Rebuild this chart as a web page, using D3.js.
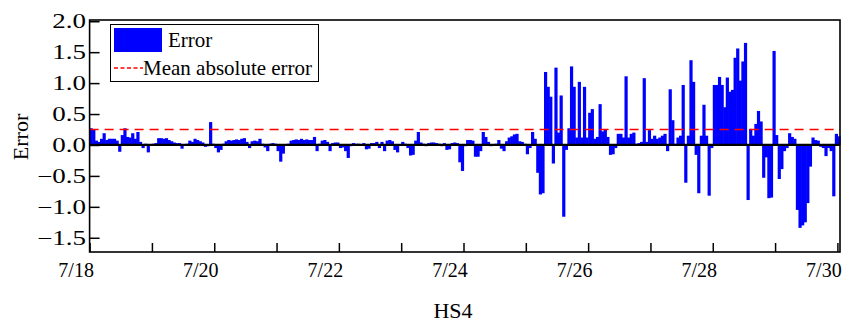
<!DOCTYPE html>
<html>
<head>
<meta charset="utf-8">
<script src="https://cdn.jsdelivr.net/npm/d3@7"></script>
<style>
  html, body { margin: 0; padding: 0; background: #fff; }
  svg { display: block; }
  text { font-family: "Liberation Serif", "Times New Roman", serif; fill: #000; }
</style>
</head>
<body>
<svg id="chart" width="842" height="322"></svg>
<script>
// Hourly forecast error for station HS4, starting 7/18 00:00
const startTime = new Date(2020, 6, 18, 0);
const endTime = new Date(2020, 6, 30, 1);

const errorDay18 = [0.27, 0.25, 0.07, 0.05, 0.10, 0.19, 0.08, 0.10, 0.10, 0.10, 0.07, -0.11,
                    0.16, 0.27, 0.13, 0.12, 0.19, 0.10, 0.21, 0.05, -0.05, 0.02, -0.12, 0.01];
const errorDay19 = [0.02, 0.03, 0.11, 0.11, 0.10, 0.11, 0.08, 0.06, 0.04, 0.03, 0.03, -0.06,
                    0.01, 0.02, 0.07, 0.05, 0.10, 0.08, 0.06, 0.04, -0.03, -0.02, 0.37, 0.02];
const errorDay20 = [-0.05, -0.12, -0.08, 0.02, 0.06, 0.08, 0.07, 0.08, 0.09, 0.08, 0.10, 0.11,
                    0.05, -0.05, 0.06, 0.07, 0.06, 0.10, 0.02, -0.04, -0.10, 0.02, 0.03, 0.02];
const errorDay21 = [-0.10, -0.27, -0.14, 0.01, 0.02, 0.07, 0.08, 0.09, 0.08, 0.10, 0.08, 0.09,
                    0.08, 0.08, 0.13, -0.10, 0.02, 0.07, 0.08, 0.05, -0.10, 0.03, 0.04, 0.04];
const errorDay22 = [-0.05, -0.04, -0.10, -0.21, -0.02, 0.03, 0.02, 0.02, 0.01, 0.03, -0.07, -0.06,
                    0.03, 0.03, 0.05, -0.05, 0.05, -0.10, 0.07, 0.08, 0.06, -0.08, -0.12, 0.01];
const errorDay23 = [0.05, 0.02, -0.05, -0.17, -0.16, 0.07, 0.21, 0.04, 0.02, -0.02, 0.03, 0.04,
                    0.04, 0.03, 0.02, -0.02, 0.03, -0.08, -0.07, 0.03, 0.04, 0.03, -0.28, -0.42];
const errorDay24 = [-0.02, 0.08, 0.08, 0.07, -0.19, -0.19, -0.10, 0.21, 0.13, 0.05, -0.02, 0.01,
                    0.02, 0.08, -0.06, -0.10, 0.06, 0.12, 0.14, 0.17, 0.18, 0.06, 0.05, 0.02];
const errorDay25 = [-0.15, -0.05, 0.21, 0.10, -0.45, -0.80, -0.78, 1.18, 0.94, 0.78, -0.30, 1.25,
                    0.20, 0.80, -1.16, -0.08, 0.27, 1.27, 0.94, 0.12, 1.02, 0.12, 0.94, 0.12];
const errorDay26 = [0.52, 0.58, 0.10, 0.13, 0.66, 0.22, 0.25, 0.13, -0.16, -0.15, -0.05, 0.18,
                    0.18, 0.12, 1.11, 0.12, 0.18, 0.20, 0.02, 0.03, 0.05, 1.08, 0.05, 0.24];
const errorDay27 = [0.10, 0.15, 0.10, 0.12, 0.15, 0.18, -0.10, 0.90, 0.40, 0.02, 0.12, 0.15,
                    0.97, -0.61, 0.15, 1.37, 1.02, -0.16, -0.78, 0.15, 0.65, 0.15, -0.82, -0.05];
const errorDay28 = [0.97, 0.97, 1.10, 0.97, 0.61, 1.09, 0.86, 0.89, 1.41, 1.56, 1.04, 1.35,
                    1.65, -0.89, 0.26, 0.15, 0.34, 0.55, 0.38, -0.53, -0.20, -0.86, -0.85, 1.52];
const errorDay29 = [0.16, -0.55, -0.39, -0.10, -0.05, 0.19, 0.13, 0.10, -1.05, -1.34, -1.30, -1.25,
                    -0.94, -0.35, 0.12, 0.08, 0.07, -0.03, -0.05, -0.18, -0.05, -0.10, -0.83, 0.18];
const errorDay30 = [0.14];

const meanAbsoluteError = 0.25;
const yTicks = [-1.5, -1.0, -0.5, 0.0, 0.5, 1.0, 1.5, 2.0];
const xTickLabels = ["7/18", "7/20", "7/22", "7/24", "7/26", "7/28", "7/30"];
const xTitle = "HS4";
const yTitle = "Error";
const legendLabels = ["Error", "Mean absolute error"];

const errorValues = [].concat(errorDay18, errorDay19, errorDay20, errorDay21, errorDay22,
  errorDay23, errorDay24, errorDay25, errorDay26, errorDay27, errorDay28, errorDay29, errorDay30);
const series = errorValues.map((v, i) => ({ time: d3.timeHour.offset(startTime, i), value: v }));

const plot = { left: 89.6, right: 840, top: 20, bottom: 252 };
const svg = d3.select("#chart");

const x = d3.scaleTime().domain([startTime, endTime]).range([plot.left, plot.right]);
const y = d3.scaleLinear().domain([-1.73, 2.02]).range([plot.bottom, plot.top]);

// bars: one per hour, overlapping slightly so neighbours merge into solid blocks
svg.append("g")
  .selectAll("rect")
  .data(series)
  .join("rect")
  .attr("x", d => x(d.time))
  .attr("width", d => x(d3.timeHour.offset(d.time, 1)) - x(d.time) + 0.6)
  .attr("y", d => y(Math.max(0, d.value)))
  .attr("height", d => Math.abs(y(d.value) - y(0)))
  .attr("fill", "#0000ff");

// zero line
svg.append("line")
  .attr("x1", plot.left).attr("x2", plot.right)
  .attr("y1", y(0)).attr("y2", y(0))
  .attr("stroke", "#000").attr("stroke-width", 2.2);

// mean absolute error reference
svg.append("line")
  .attr("x1", plot.left).attr("x2", plot.right)
  .attr("y1", y(meanAbsoluteError)).attr("y2", y(meanAbsoluteError))
  .attr("stroke", "#ff0000").attr("stroke-width", 1.3)
  .attr("stroke-dasharray", "9,6");

// y axis (ticks inward), labels drawn slightly widened
const yAxis = svg.append("g")
  .attr("transform", `translate(${plot.left},0)`)
  .call(d3.axisLeft(y).tickValues(yTicks).tickFormat(d3.format(".1f")).tickSizeInner(-10).tickSizeOuter(0));
yAxis.select(".domain").remove();
yAxis.selectAll(".tick line").attr("stroke-width", 1.5);
yAxis.selectAll(".tick text")
  .attr("font-size", 20)
  .attr("x", 0)
  .attr("dy", "0.33em")
  .attr("transform", "translate(-3.5,0) scale(1.35,1)");

// x axis: daily ticks, labels every other day
const dayTicks = d3.timeDay.range(startTime, d3.timeHour.offset(endTime, 1));
const xAxis = svg.append("g")
  .attr("transform", `translate(0,${plot.bottom})`)
  .call(d3.axisBottom(x).tickValues(dayTicks).tickSizeInner(-9).tickSizeOuter(0)
    .tickFormat((d, i) => i % 2 === 0 ? xTickLabels[i / 2] : ""));
xAxis.select(".domain").remove();
xAxis.selectAll(".tick line").attr("stroke-width", 1.5);
xAxis.selectAll(".tick text")
  .attr("font-size", 20)
  .attr("y", 25)
  .attr("dy", 0)
  .attr("x", -14);

// frame
svg.append("rect")
  .attr("x", plot.left).attr("y", plot.top)
  .attr("width", plot.right - plot.left).attr("height", plot.bottom - plot.top)
  .attr("fill", "none").attr("stroke", "#000").attr("stroke-width", 1.6);

// axis titles
svg.append("text")
  .attr("x", 453).attr("y", 318)
  .attr("text-anchor", "middle").attr("font-size", 22)
  .text(xTitle);
svg.append("text")
  .attr("transform", `translate(28,137) rotate(-90)`)
  .attr("text-anchor", "middle").attr("font-size", 22)
  .text(yTitle);

// legend
const legend = svg.append("g");
legend.append("rect")
  .attr("x", 110.5).attr("y", 24.5).attr("width", 208).attr("height", 57)
  .attr("fill", "#fff").attr("stroke", "#000").attr("stroke-width", 1);
legend.append("rect")
  .attr("x", 114).attr("y", 28).attr("width", 48).attr("height", 24)
  .attr("fill", "#0000ff");
legend.append("text")
  .attr("x", 168).attr("y", 47).attr("font-size", 21)
  .text(legendLabels[0]);
legend.append("line")
  .attr("x1", 114).attr("x2", 143).attr("y1", 68).attr("y2", 68)
  .attr("stroke", "#ff0000").attr("stroke-width", 1.3).attr("stroke-dasharray", "4,2.5");
legend.append("text")
  .attr("x", 143).attr("y", 75).attr("font-size", 21)
  .text(legendLabels[1]);
</script>
</body>
</html>
